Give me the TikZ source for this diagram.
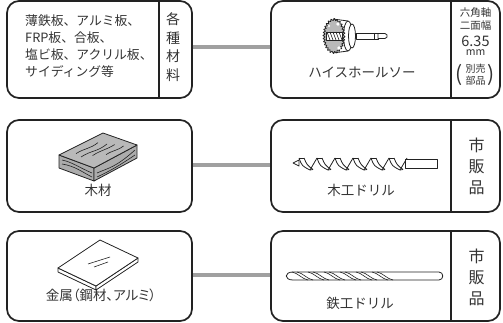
\documentclass[tikz,border=0pt]{standalone}
\usepackage{fontspec}
\newfontfamily\jp{Noto Sans CJK JP}
\newfontfamily\jpp[RawFeature=+palt]{Noto Sans CJK JP}
\usetikzlibrary{decorations.pathmorphing}
\definecolor{txt}{HTML}{333333}
\definecolor{edge}{HTML}{222222}
\definecolor{conncol}{HTML}{A0A0A0}
\begin{document}
\begin{tikzpicture}[x=1pt,y=-1pt,
  box/.style={draw=edge, line width=1.7pt, rounded corners=12pt, rectangle, inner sep=0pt},
  divider/.style={draw=edge, line width=1.4pt},
  conn/.style={draw=conncol, line width=4pt},
  lbl/.style={text=txt, inner sep=0pt, font=\jp\fontsize{13.5}{16}\selectfont},
  lefttxt/.style={text=txt, inner sep=0pt, align=left, anchor=west, font=\jp\fontsize{12.8}{17}\selectfont},
  vert/.style={text=txt, inner sep=0pt, align=center, font=\jp\fontsize{14}{18.5}\selectfont},
  vertbig/.style={text=txt, inner sep=0pt, align=center, font=\jp\fontsize{16}{21}\selectfont},
  small/.style={text=txt, inner sep=0pt, align=center, font=\jp\fontsize{10.5}{13}\selectfont},
  icon/.style={draw=edge, line width=0.8pt, line join=round},
  thin/.style={draw=edge, line width=0.6pt, line join=round}]
\useasboundingbox (0,0) rectangle (503,323);

% boxes
\node[box, minimum width=185pt, minimum height=97pt] (L1) at (99.5,49.5) {};
\node[box, minimum width=229pt, minimum height=97pt] (R1) at (385.5,49.5) {};
\node[box, minimum width=185pt, minimum height=92pt] (L2) at (99.5,166) {};
\node[box, minimum width=229pt, minimum height=92pt] (R2) at (385.5,166) {};
\node[box, minimum width=185pt, minimum height=90pt] (L3) at (99.5,276) {};
\node[box, minimum width=229pt, minimum height=90pt] (R3) at (385.5,276) {};

% connectors
\draw[conn] ([yshift=2.5pt]L1.east) -- ([yshift=2.5pt]R1.west);
\draw[conn] ([yshift=1pt]L2.east) -- ([yshift=1pt]R2.west);
\draw[conn] ([yshift=1pt]L3.east) -- ([yshift=1pt]R3.west);

% dividers
\draw[divider] (L1.north -| 159,0) -- (L1.south -| 159,0);
\draw[divider] (R1.north -| 451,0) -- (R1.south -| 451,0);
\draw[divider] (R2.north -| 451,0) -- (R2.south -| 451,0);
\draw[divider] (R3.north -| 451,0) -- (R3.south -| 451,0);

% row 1 texts
\node[lefttxt] (t1) at (25,46) {薄鉄板、アルミ板、\\FRP板、合板、\\塩ビ板、アクリル板、\\サイディング等};
\node[vert] (t1v) at (173,47) {各\\種\\材\\料};
\node[lbl] (t1r) at (362,72) {ハイスホールソー};
\node[small] (s1) at (475.5,13) {六角軸};
\node[small] (s2) at (475.5,25.5) {二面幅};
\node[text=txt, inner sep=0pt, font=\jp\fontsize{14.5}{16}\selectfont] (s3) at (475.5,41) {6.35};
\node[small] (s4) at (475.5,53) {mm};
\node[text=txt, inner sep=0pt, align=center, font=\jp\fontsize{10}{12.5}\selectfont] (s5) at (475.5,74.5) {別売\\部品};
\node[text=txt, inner sep=0pt, font=\jp\fontsize{21}{22}\selectfont] (p1) at (459.5,75) {(};
\node[text=txt, inner sep=0pt, font=\jp\fontsize{21}{22}\selectfont] (p2) at (491.5,75) {)};

% row 2 texts
\node[lbl] (t2) at (98,190) {木材};
\node[lbl] (t2r) at (361,190) {木工ドリル};
\node[vertbig] (t2v) at (476.5,166) {市\\販\\品};

% row 3 texts
\node[text=txt, inner sep=0pt, font=\jpp\fontsize{13.5}{16}\selectfont] (t3) at (101,295) {金属（鋼材、アルミ）};
\node[lbl] (t3r) at (360,303) {鉄工ドリル};
\node[vertbig] (t3v) at (476.5,277) {市\\販\\品};

% ---------- hole saw icon ----------
\fill[white] (333,19) -- (348,21) -- (348,51) -- (333,53) -- cycle;
\draw[icon] (333,19) -- (348,21);
\draw[icon] (333,53) -- (348,51);
\draw[icon, fill=white] (348,36) ellipse [x radius=4.5, y radius=15];
\draw[icon, fill=white] (352,36) ellipse [x radius=3.5, y radius=12];
\draw[icon, fill=white] (356,33) rectangle (378,39);
\draw[icon, fill=white] (378,33.5) -- (385,33.5) -- (387,35) -- (387,37) -- (385,38.5) -- (378,38.5) -- cycle;
\draw[thin] (374,33) -- (374,39);
\draw[icon, fill=gray!55, decorate, decoration={zigzag, segment length=3pt, amplitude=1pt}] (334,36) ellipse [x radius=10, y radius=16.5];
\fill[white] (338,24) circle (1.8);
\fill[white] (339,48) circle (1.8);
\fill[white] (329,26) circle (1.2);
\draw[icon, fill=white] (326,32) rectangle (342,40);
\foreach \k in {0,...,4} {
  \draw[thin] (327+3*\k,32) -- (330+3*\k,40);
}

% ---------- wood board icon ----------
\draw[icon, fill=gray!65] (59,155) -- (94,168) -- (94,181) -- (59,168) -- cycle;
\draw[icon, fill=gray!65] (94,168) -- (137,145) -- (137,158) -- (94,181) -- cycle;
\draw[icon, fill=gray!55] (59,155) -- (103,133) -- (137,145) -- (94,168) -- cycle;
\draw[thin] (76,153.6) .. controls (85,148) and (90,149) .. (98,142.6);
\draw[thin] (81,157) .. controls (92,150) and (97,152) .. (107,144);
\draw[thin] (92.6,155.6) .. controls (101,150) and (106,150) .. (114.6,144.6);
\draw[thin] (106,154.7) .. controls (113,150) and (117,151) .. (123.6,145.9);
\draw[thin] (97,173) .. controls (108,168) and (115,168) .. (135,150);
\draw[thin] (97,177) .. controls (112,170) and (120,165) .. (135,155);
\draw[thin] (62,160) .. controls (72,162) and (80,168) .. (92,173);
\draw[thin] (62,164) .. controls (75,166) and (82,172) .. (92,177);

% ---------- metal plate icon ----------
\draw[icon, fill=white] (58,268) -- (96,286) -- (96,290) -- (58,272) -- cycle;
\draw[icon, fill=white] (96,286) -- (138,258) -- (138,262) -- (96,290) -- cycle;
\draw[icon, fill=white] (58,268) -- (100,240) -- (138,258) -- (96,286) -- cycle;
\draw[thin] (88,264) -- (110,257);
\draw[thin] (94,267) -- (108,262);

% ---------- wood drill icon ----------
\draw[icon] (293,163) -- (299,160) -- (299,166) -- cycle;
\foreach \i in {0,...,5} {
  \pgfmathsetmacro{\xo}{299+18*\i}
  \draw[icon] (\xo,158) .. controls (\xo+3,166) .. (\xo+11,170);
  \draw[icon] (\xo+5,158) .. controls (\xo+8,165) .. (\xo+14,169.5);
  \draw[icon] (\xo,158) -- (\xo+5,158);
  \draw[icon] (\xo+11,170) -- (\xo+14,169.5);
  \draw[icon] (\xo+11,170) -- (\xo+18,158);
}
\draw[icon, fill=white] (405,159) rectangle (437,168);

% ---------- metal drill icon ----------
\draw[icon, fill=white] (293,272) -- (439,272) .. controls (444,272) and (444,280) .. (439,280) -- (293,280) .. controls (284,280) and (284,272) .. (293,272) -- cycle;
\foreach \i in {0,...,5} {
  \pgfmathsetmacro{\xo}{292+16*\i}
  \draw[thin] (\xo,272) .. controls (\xo+6,273) and (\xo+10,279) .. (\xo+16,280);
  \draw[thin] (\xo+5,272) .. controls (\xo+11,273) and (\xo+15,279) .. (\xo+21,280);
}
\end{tikzpicture}
\end{document}
